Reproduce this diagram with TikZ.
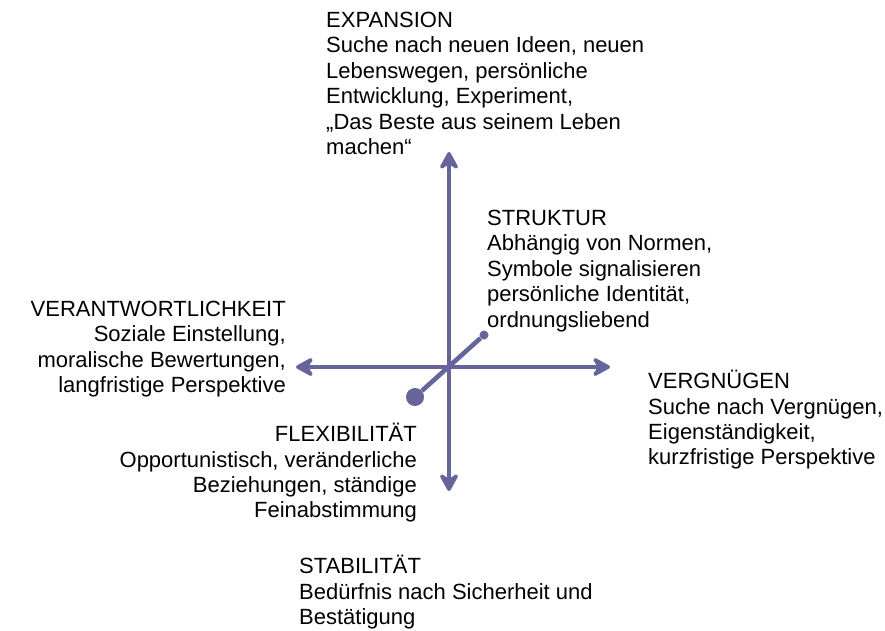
\documentclass[tikz,border=0pt]{standalone}
\usepackage{fontspec}
\setmainfont{Liberation Sans}
\usepackage{tikz}
\usetikzlibrary{arrows.meta,positioning}
\definecolor{axisblue}{RGB}{101,101,153}
\tikzset{
    %Define standard arrow tip
    >={Stealth[length=22pt,width=24pt,inset=8pt,round]},
    %Define style for the axes
    axis/.style={
           <->,
           draw=axisblue,
           line width=4.6pt},
    %Define style for the diagonal
    diag/.style={
           draw=axisblue,
           line width=4.6pt},
    bigdot/.style={
           circle,
           fill=axisblue,
           inner sep=0pt,
           minimum size=18pt},
    smalldot/.style={
           circle,
           fill=axisblue,
           inner sep=0pt,
           minimum size=9pt},
    %Define style for the texts
    lefttext/.style={
           anchor=north west,
           align=left,
           inner sep=0pt,
           font=\fontsize{22}{25.4}\selectfont},
    righttext/.style={
           anchor=north east,
           align=right,
           inner sep=0pt,
           font=\fontsize{22}{25.4}\selectfont}
}
\begin{document}
\begin{tikzpicture}[x=1pt,y=-1pt]
\useasboundingbox (0,0) rectangle (885,630);
 %axes
\coordinate (c) at (449,367);
\coordinate (top) at (449,152);
\coordinate (bottom) at (449,491);
\coordinate (left) at (296,367);
\coordinate (right) at (610,367);
\draw[axis] (left) -- (right);
\draw[axis] (bottom) -- (top);
\node[bigdot] (flexdot) at (415,397) {};
\node[smalldot] (strukdot) at (484,335) {};
\draw[diag] (flexdot) -- (strukdot);
 %texts
\node[lefttext] (expansion) at (326,12) {EXPANSION\\Suche nach neuen Ideen, neuen\\Lebenswegen, persönliche\\Entwicklung, Experiment,\\„Das Beste aus seinem Leben\\machen“};
\node[lefttext] (struktur) at (487,210) {STRUKTUR\\Abhängig von Normen,\\Symbole signalisieren\\persönliche Identität,\\ordnungsliebend};
\node[righttext] (verantwortung) at (286,301) {VERANTWORTLICHKEIT\\Soziale Einstellung,\\moralische Bewertungen,\\langfristige Perspektive};
\node[lefttext] (vergnuegen) at (648,370) {VERGNÜGEN\\Suche nach Vergnügen,\\Eigenständigkeit,\\kurzfristige Perspektive};
\node[righttext] (flexibilitaet) at (417,423) {FLEXIBILITÄT\\Opportunistisch, veränderliche\\Beziehungen, ständige\\Feinabstimmung};
\node[lefttext] (stabilitaet) at (299,555) {STABILITÄT\\Bedürfnis nach Sicherheit und\\Bestätigung};
\end{tikzpicture}
\end{document}
